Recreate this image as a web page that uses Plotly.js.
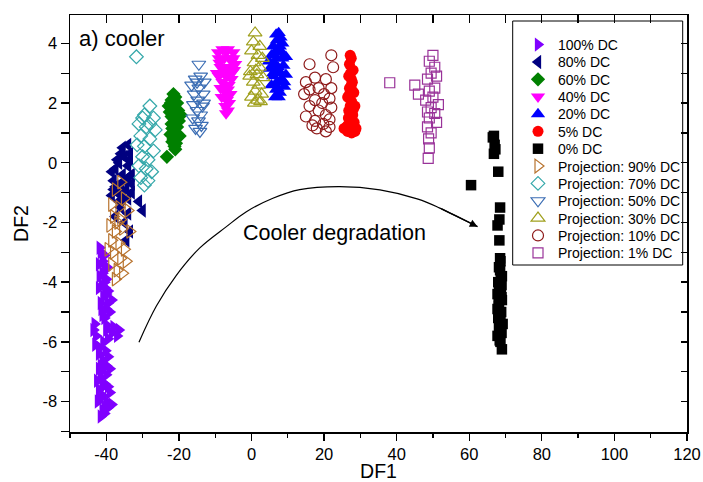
<!DOCTYPE html>
<html><head><meta charset="utf-8">
<script src="https://cdn.plot.ly/plotly-3.0.1.min.js"></script>
<style>html,body{margin:0;padding:0;background:#fff;}#chart{width:703px;height:482px;}</style>
</head><body><div id="chart"></div>
<script>
// ---- data ----
const seriesNames = ['100% DC','80% DC','60% DC','40% DC','20% DC','5% DC','0% DC',
  'Projection: 90% DC','Projection: 70% DC','Projection: 50% DC','Projection: 30% DC','Projection: 10% DC','Projection: 1% DC'];

const x100 = [-41.5,-41,-40.5,-41.8,-40,-41.2,-39.5,-40.8,-38.5,-41.5,-40,-39,-41,-40.3,
  -43.5,-42.8,-43,-40,-38.5,-37,-39.5,-36.5,-42,-41,-40,-39,-41.5,-42.5,-40.5,-42,-41,-39.5,-42.3,-40,-38.5,-41,-40.5,-41.5,-40.2,
  -41.8,-40.5,-42,-39.8,-41,-40.5,-42,-40,-41.3,-39.5,-40.5,
  -43.2,-39.8,-38,-41.8,-40.8,-39.5,-41.5,-40,-42,-41,-39,-41.8,-40.5,-41.5,-39.5];
const y100 = [-3.0,-3.3,-3.6,-3.8,-3.9,-4.1,-4.3,-4.5,-4.6,-4.7,-4.9,-5.0,-5.1,-4.2,
  -5.6,-5.8,-6.1,-5.6,-5.7,-5.8,-5.9,-5.6,-6.4,-6.6,-6.8,-6.9,-7.0,-7.3,-7.4,-7.6,-7.8,-7.5,-8.0,-8.0,-8.1,-8.3,-8.4,-7.2,-6.3,
  -2.85,-3.1,-3.4,-3.5,-3.7,-4.0,-4.2,-4.4,-4.9,-4.7,-5.2,
  -5.4,-5.45,-5.5,-6.2,-6.0,-6.5,-6.8,-7.1,-6.9,-7.5,-7.7,-7.9,-8.2,-8.5,-8.2];

const x80 = [-34,-33.5,-35,-36.5,-34,-37.5,-35.5,-33,-36,-38,-34.5,-37,-33,-35.5,-38.5,-31,-30,-36,-34,-37.5,-35,-33.5,-34.5,-36.5,-33,
  -35.5,-36,-37,-38.5,-35,-37.5,-34,-36,-34,-38,-33.5];
const y80 = [0.6,0.3,0.2,0.0,-0.1,-0.2,-0.4,-0.4,-0.7,-0.6,-0.9,-1.0,-1.0,-1.2,-1.1,-1.3,-1.6,-1.5,-1.7,-1.8,-2.0,-2.3,-2.6,-1.3,-0.7,
  0.5,0.3,0.1,-0.3,-0.6,-0.8,-0.5,-1.0,-1.2,-0.9,0.1];

const x60 = [-21.5,-22,-20.5,-21,-22.5,-19.5,-21.5,-20,-22,-20.5,-21,-22.3,-19.8,-21.5,-20.8,-21.2,-23.3,-20.2,-21.8,-22.8,
  -21,-22,-20.5,-21.3,-20.5,-21.8,-21,-22.2];
const y60 = [2.3,2.1,2.0,1.8,1.7,1.6,1.5,1.4,1.3,1.2,1.0,0.95,0.9,0.8,0.65,0.55,0.2,1.75,1.15,1.9,
  2.2,1.55,1.55,1.3,0.85,0.7,0.45,2.0];

const x40 = [-8,-6.5,-5,-9,-7.5,-5.5,-8.5,-6.5,-4.8,-9.5,-7,-5.5,-8,-6.3,-7.5,-5.8,-8.2,-6.8,-7.2,-6.5,-9,-4.5,
  -7,-8.8,-6,-7.5,-5.5,-8.5,-6.5,-7.2,-6.2,-7,-9.2,-5];
const y40 = [3.8,3.8,3.7,3.5,3.5,3.4,3.2,3.2,3.1,3.0,2.9,2.8,2.7,2.6,2.4,2.3,2.2,2.1,1.9,1.75,2.9,3.3,
  3.7,3.35,3.5,3.1,3.0,2.5,2.45,2.2,2.0,1.65,3.7,3.5];

const x20 = [7.5,7,8.5,6,8,5.5,9.5,7,6.5,8.8,5,7.5,9.5,6,8.3,7,5.5,9,6.8,7.8,8,4.8,
  6.8,7.8,6.5,8.5,7.3,6,8,7.2,9,6.5,7.5];
const y20 = [4.35,4.1,4.0,3.9,3.75,3.6,3.55,3.5,3.3,3.25,3.15,3.05,2.95,2.9,2.8,2.7,2.6,2.55,2.45,2.35,4.2,3.4,
  4.3,3.9,3.7,3.5,3.2,3.0,3.0,2.5,2.7,2.2,2.2];

const x5 = [27.5,27,28,26.8,27.8,27,28.2,26.5,27.6,28.5,26.8,27.9,27.2,28.3,26.5,25.5,27,28.5,27.6,26.2,27.5,27.3,
  27.2,27.5,27,27.2,27.8,26.5,28.8,27.8,26.7,28.1];
const y5 = [3.5,3.3,3.1,2.9,2.7,2.5,2.35,2.2,2.05,1.9,1.75,1.6,1.45,1.35,1.25,1.15,1.1,1.05,1.0,1.2,2.6,3.0,
  3.6,2.8,2.3,1.9,1.3,1.05,1.15,2.4,1.5,1.8];

const x0 = [66.5,67,66.8,68,60.5,68.5,68.3,67.8,68.3,68.5,68.5,69,68,68.7,67.8,69,68.2,68.8,68,69.2,68.5,67.8,68.6,68.2,68.9,69,68.2,67.8,
  68.7,68.2,68.9,68.1,68.6,68.3,68.9,68.4,68.6,66.8,67.2];
const y0 = [0.85,0.6,0.3,-0.3,-0.75,-1.5,-1.9,-2.1,-2.6,-3.2,-3.6,-3.8,-4.0,-4.2,-4.4,-4.6,-4.8,-5.0,-5.2,-5.4,-5.6,-5.8,-6.0,-5.5,-4.1,-6.25,-3.5,-4.9,
  -3.9,-4.3,-4.5,-4.65,-5.1,-5.3,-5.7,-5.95,-3.3,0.9,0.45];

const xP90 = [-36,-37.5,-35,-38.5,-36.5,-34,-38,-36,-39,-35.5,-37.5,-33.5,-38.5,-36.5,-35,-38,-36,-34.5,-38.5,-37,-35.5,-37.5,-39.5,-36.8];
const yP90 = [-0.65,-0.9,-1.2,-1.4,-1.5,-1.6,-1.8,-1.9,-2.1,-2.2,-2.3,-2.3,-2.6,-2.7,-2.9,-3.0,-3.2,-3.3,-3.4,-3.6,-3.7,-3.9,-2.9,-2.0];

const xP70 = [-31.7,-28,-29.5,-27,-31,-29,-26.5,-30.5,-28,-31.5,-29.5,-27,-30,-28.5,-31,-29,-27.5,-30.5,-28.5,-29.5,-30,-28];
const yP70 = [3.55,1.9,1.6,1.5,1.3,1.2,1.1,0.9,0.8,0.6,0.55,0.4,0.2,0.1,-0.1,-0.2,-0.3,-0.5,-0.6,-0.75,1.5,1.3];

const xP50 = [-14.5,-14,-15.5,-13,-16.5,-14.5,-15.8,-13.3,-14.8,-16,-13.5,-15,-14,-16.2,-14.6,-13.8,-15.4,-14.2,-15,-13.2];
const yP50 = [3.3,2.9,2.8,2.7,2.6,2.5,2.3,2.3,2.1,1.95,1.9,1.75,1.6,1.5,1.4,1.25,1.15,1.05,2.7,2.0];

const xP30 = [1,0.5,2.3,0,1.8,3,0.7,2.2,-0.3,1.5,3.2,0.5,2,1,2.8,0,1.7,0.8,2.5,1.2,-0.5];
const yP30 = [4.35,4.05,3.9,3.75,3.6,3.5,3.35,3.2,3.05,2.95,2.85,2.7,2.6,2.4,2.3,2.2,2.1,2.0,2.05,3.1,2.9];

const xP10 = [22,16,22.5,17.5,15,20.5,18.5,22,16,20,14.5,21.5,17.5,19.5,16,22,18.5,20.5,15,21.5,17.5,19.8,21.5,18,20.5,16.8];
const yP10 = [3.6,3.3,3.2,2.85,2.7,2.8,2.5,2.5,2.45,2.3,2.3,2.15,2.1,2.0,1.9,1.85,1.75,1.6,1.55,1.45,1.4,1.3,1.2,1.15,1.05,1.25];

const xP1 = [38.1,50,49,50.5,49.5,51,48.5,45,50.5,49,46,50,48,51.5,49.5,48.5,50.5,49,51,48.5,49.5,48.8,49,48.7];
const yP1 = [2.68,3.6,3.4,3.2,3.0,2.9,2.8,2.6,2.5,2.4,2.3,2.2,2.1,1.95,1.85,1.7,1.65,1.5,1.35,1.2,1.0,0.8,0.5,0.15];

// "Cooler degradation" guide curve
const curveX = [-31.0,-26.2,-20.7,-14.3,-6.9,-1.4,5.9,13.3,24.3,35.4,45.9,51.9,62.3];
const curveY = [-6.01,-4.80,-3.77,-2.86,-2.14,-1.64,-1.19,-0.90,-0.80,-0.91,-1.22,-1.52,-2.14];

const xTickVals = [-40,-20,0,20,40,60,80,100,120];
const xTickText = ['-40','-20','0','20','40','60','80','100','120'];
const yTickVals = [-8,-6,-4,-2,0,2,4];
const yTickText = ['-8','-6','-4','-2','0','2','4'];

// ---- styling ----
const FONT = 'Liberation Sans, Arial, sans-serif';
const seriesData = [[x100,y100],[x80,y80],[x60,y60],[x40,y40],[x20,y20],[x5,y5],[x0,y0],
  [xP90,yP90],[xP70,yP70],[xP50,yP50],[xP30,yP30],[xP10,yP10],[xP1,yP1]];
const symbols = ['triangle-right','triangle-left','diamond','triangle-down','triangle-up','circle','square',
  'triangle-right-open','diamond-open','triangle-down-open','triangle-up-open','circle-open','square-open'];
const colors = ['#8000FF','#000080','#008000','#FF00FF','#0000FF','#FF0000','#000000',
  '#B8732E','#35A8AA','#3C6EB4','#A0A01E','#8E1A1A','#993399'];
const sizes = [12.5,12.5,11,12.5,12.5,11,10.5,12,10.5,12,12,11,10];

const L = 70, R = 16, T = 15, B = 50, W = 703, H = 482;
const plotH = H - T - B, plotW = W - L - R;
const py2paper = p => (H - B - p) / plotH;
const px2paper = p => (p - L) / plotW;

const traces = [];
const layout = {
  width: W, height: H,
  margin: {l: L, r: R, t: T, b: B, pad: 0},
  paper_bgcolor: '#fff', plot_bgcolor: '#fff',
  font: {family: FONT, color: '#000'},
  showlegend: true,
  xaxis: {
    range: [-50, 120], tickmode: 'array', tickvals: xTickVals, ticktext: xTickText,
    ticks: 'outside', ticklen: 7, tickwidth: 1.3, tickcolor: '#000',
    showline: true, linecolor: '#000', linewidth: 1.5, mirror: false,
    showgrid: false, zeroline: false,
    minor: {tickmode: 'linear', tick0: 0, dtick: 10, ticks: 'outside', ticklen: 4, tickwidth: 1.3, tickcolor: '#000', showgrid: false},
    tickfont: {size: 16.5, family: FONT},
    title: {text: 'DF1', font: {size: 19.5, family: FONT}, standoff: 4}
  },
  yaxis: {
    range: [-9.02, 4.95], tickmode: 'array', tickvals: yTickVals, ticktext: yTickText,
    ticks: 'outside', ticklen: 8, tickwidth: 1.3, tickcolor: '#000',
    showline: true, linecolor: '#000', linewidth: 1.5, mirror: false,
    showgrid: false, zeroline: false,
    minor: {tickmode: 'linear', tick0: 0, dtick: 1, ticks: 'outside', ticklen: 8, tickwidth: 1.3, tickcolor: '#000', showgrid: false},
    tickfont: {size: 16.5, family: FONT},
    title: {text: 'DF2', font: {size: 19.5, family: FONT}, standoff: 8}
  },
  xaxis2: {
    overlaying: 'x', side: 'top', range: [-50, 120], tickmode: 'linear', tick0: 0, dtick: 10,
    ticks: 'inside', ticklen: 8, tickwidth: 1.3, tickcolor: '#000', showticklabels: false,
    showline: true, linecolor: '#000', linewidth: 1.5, showgrid: false, zeroline: false
  },
  yaxis2: {
    overlaying: 'y', side: 'right', range: [-9.02, 4.95], tickmode: 'linear', tick0: 0, dtick: 1,
    ticks: 'inside', ticklen: 6, tickwidth: 1.3, tickcolor: '#000', showticklabels: false,
    showline: true, linecolor: '#000', linewidth: 1.5, showgrid: false, zeroline: false
  },
  shapes: [{
    type: 'rect', xref: 'paper', yref: 'paper', layer: 'below',
    x0: px2paper(512.7), x1: px2paper(682.7), y0: py2paper(265), y1: py2paper(21),
    line: {color: '#000', width: 1}, fillcolor: '#fff'
  }],
  annotations: [
    {xref: 'paper', yref: 'paper', x: px2paper(77), y: py2paper(38), xanchor: 'left', yanchor: 'middle',
     text: 'a) cooler', showarrow: false, font: {size: 22, family: FONT, color: '#000'}},
    {xref: 'x', yref: 'y', x: 22.9, y: -2.35, xanchor: 'center', yanchor: 'middle',
     text: 'Cooler degradation', showarrow: false, font: {size: 21.5, family: FONT, color: '#000'}},
    {xref: 'x', yref: 'y', axref: 'x', ayref: 'y',
     x: curveX[curveX.length - 1], y: curveY[curveY.length - 1],
     ax: curveX[curveX.length - 2], ay: curveY[curveY.length - 2],
     text: '', showarrow: true, arrowhead: 2, arrowsize: 1.3, arrowwidth: 1.2, arrowcolor: '#000', standoff: 0}
  ]
};

// one single-entry legend per series so the row spacing matches the reference
seriesNames.forEach((name, i) => {
  const open = symbols[i].endsWith('-open');
  const key = i === 0 ? 'legend' : 'legend' + (i + 1);
  traces.push({
    type: 'scatter', mode: 'markers', name: name,
    x: seriesData[i][0], y: seriesData[i][1],
    legend: key,
    marker: {symbol: symbols[i], size: sizes[i], color: colors[i],
             line: {width: open ? 1.2 : 0, color: colors[i]}},
    hoverinfo: 'x+y+name'
  });
  layout[key] = {
    x: px2paper(518), y: py2paper(45 + 17.35 * i), xanchor: 'left', yanchor: 'middle',
    bgcolor: 'rgba(0,0,0,0)', borderwidth: 0,
    font: {size: 14, family: FONT, color: '#000'}, itemsizing: 'trace'
  };
});

traces.push({type: 'scatter', mode: 'lines', x: curveX, y: curveY, showlegend: false,
  line: {color: '#000', width: 1.2, shape: 'spline', smoothing: 1}, hoverinfo: 'skip'});
traces.push({type: 'scatter', mode: 'markers', x: [], y: [], xaxis: 'x2', yaxis: 'y', showlegend: false, hoverinfo: 'skip'});
traces.push({type: 'scatter', mode: 'markers', x: [], y: [], xaxis: 'x', yaxis: 'y2', showlegend: false, hoverinfo: 'skip'});

Plotly.newPlot('chart', traces, layout, {staticPlot: true, displayModeBar: false});
</script>
</body></html>
